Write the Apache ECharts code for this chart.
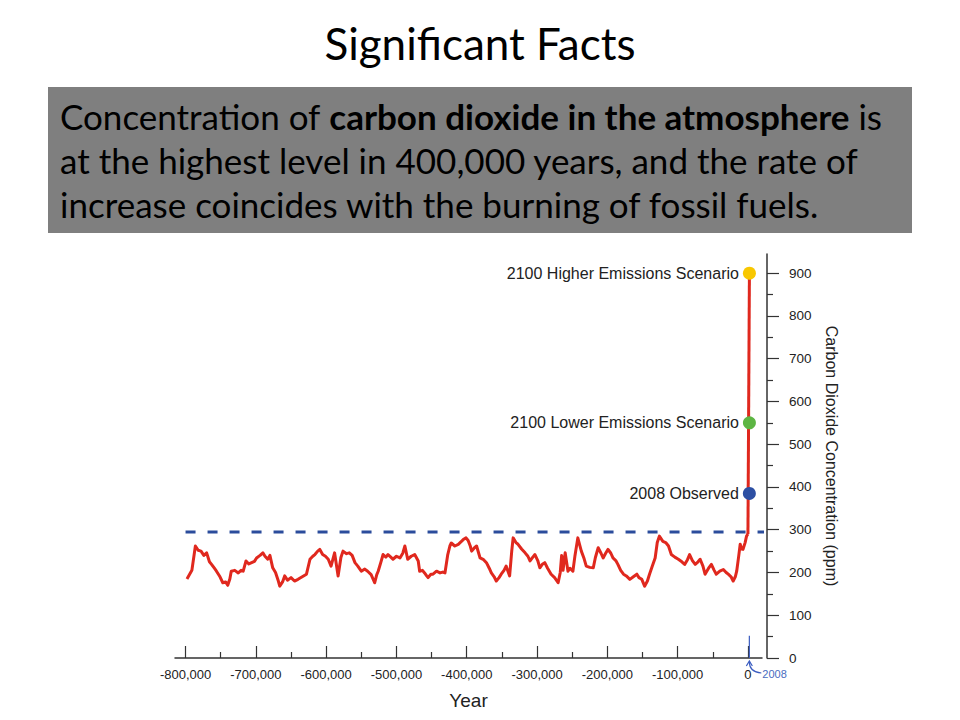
<!DOCTYPE html>
<html>
<head>
<meta charset="utf-8">
<script src="https://cdn.jsdelivr.net/npm/echarts@6/dist/echarts.min.js"></script>
<style>
html,body{margin:0;padding:0;background:#fff;}
#c{width:960px;height:720px;}
</style>
</head>
<body>
<div id="c"></div>
<script>
// ---- data (years in thousands before present, CO2 in ppm) ----
const histYearsK = [-798,-791,-786,-782,-778,-774,-770,-766,-763,-759,-756,-751,-747,-743,-740,-737,-735,-730,-725,-721,-718,-714,-710,-706,-702,-699,-694,-690,-687,-683,-680,-676,-672,-668,-666,-662,-659,-655,-650,-645,-640,-634,-628,-623,-619,-616,-612,-609,-605,-601,-597,-593,-588,-583,-579,-576,-571,-567,-563,-559,-555,-550,-545,-541,-536,-531,-528,-526,-522,-519,-515,-512,-508,-505,-500,-495,-491,-488,-484,-479,-474,-469,-467,-463,-460,-457,-455,-451,-448,-443,-438,-434,-431,-427,-424,-422,-417,-412,-408,-405,-401,-398,-395,-393,-389,-386,-383,-381,-376,-372,-368,-365,-361,-358,-354,-351,-347,-344,-339,-336,-334,-330,-327,-322,-317,-313,-310,-306,-303,-299,-296,-292,-289,-285,-280,-275,-270,-267,-265,-263,-260,-256,-253,-249,-246,-242,-239,-237,-233,-230,-225,-220,-217,-213,-209,-206,-202,-199,-195,-192,-188,-185,-181,-177,-173,-168,-163,-158,-155,-151,-147,-143,-140,-136,-132,-129,-126,-121,-117,-113,-109,-104,-99,-94,-90,-86,-83,-79,-75,-71,-68,-64,-61,-56,-52,-48,-45,-40,-35,-31,-28,-24,-21,-18,-16,-13,-11,-9,-7,-4,-2,0];
const histCO2 = [185,205,262,252,250,240,246,225,219,210,203,190,176,178,170,185,203,205,199,205,203,227,220,223,226,234,240,246,238,231,240,211,200,180,168,178,192,182,188,180,184,190,196,231,238,242,250,254,242,238,231,215,246,192,235,250,244,246,240,223,215,203,208,203,195,176,195,203,225,242,236,242,236,231,238,234,245,262,231,238,242,227,203,205,199,192,188,196,196,203,199,201,199,242,262,269,262,266,272,277,281,275,262,250,258,262,245,234,230,223,210,199,190,180,188,196,205,215,192,250,281,270,266,255,246,238,227,236,242,228,211,220,223,210,196,188,176,200,240,205,246,203,210,203,240,281,262,250,232,215,212,211,235,258,245,234,246,254,245,234,228,219,205,196,192,184,190,196,188,184,168,180,196,215,234,270,285,273,270,262,242,236,231,225,219,230,242,228,219,225,231,215,196,210,219,205,196,203,207,200,196,190,180,190,203,240,266,255,254,270,285,290];
const projYears = [0, 2100];
const projCO2 = [290, 900];
const markerYears = [2008, 2100, 2100];
const markerCO2 = [385, 550, 900];
const markerLabels = ['2008 Observed', '2100 Lower Emissions Scenario', '2100 Higher Emissions Scenario'];
const markerColors = ['#2d4fa3', '#5db543', '#f8c700'];
const maxPreIndustrial = 295;
const dashYears = [-800000, 27000];
const obsTickYears = [2008, 2008];
const obsTickCO2 = [0, 52];
const xMajorTicks = [-800000,-700000,-600000,-500000,-400000,-300000,-200000,-100000,0];
const xMinorTicks = [-750000,-650000,-550000,-450000,-350000,-250000,-150000,-50000];
const yMajorTicks = [0,100,200,300,400,500,600,700,800,900];
const yMinorTicks = [50,150,250,350,450,550,650,750,850];
const titleText = 'Significant Facts';

const histData = histYearsK.map((y, i) => [y * 1000, histCO2[i]]);
const projData = projYears.map((y, i) => [y, projCO2[i]]);
const markerData = markerYears.map((y, i) => ({
  value: [y, markerCO2[i]],
  itemStyle: { color: markerColors[i], opacity: 1 },
  label: { formatter: markerLabels[i] }
}));

const AX = '#333';
const TXT = '#222';
const FONT = '"Liberation Sans", Arial, sans-serif';
const SLIDE = 'Lato, "Open Sans", sans-serif';
const fmt = v => v === 0 ? '0' : v.toLocaleString('en-US');

const chart = echarts.init(document.getElementById('c'), null, { renderer: 'svg' });

const xBase = {
  type: 'value', min: -815000, max: 20000, position: 'bottom',
  splitLine: { show: false }
};
const yBase = {
  type: 'value', min: 0, max: 945, position: 'right', offset: 5,
  splitLine: { show: false }
};

chart.setOption({
  animation: false,
  backgroundColor: '#fff',
  grid: { left: 175, right: 198, top: 254, bottom: 62 },
  xAxis: [
    Object.assign({}, xBase, {
      name: 'Year', nameLocation: 'middle', nameGap: 33,
      nameTextStyle: { fontSize: 19, color: TXT, fontFamily: FONT },
      axisLine: { show: true, onZero: false, lineStyle: { color: AX, width: 1.5 } },
      axisTick: { show: true, inside: true, length: 12, customValues: xMajorTicks, lineStyle: { color: AX, width: 1.2 } },
      axisLabel: { show: true, customValues: xMajorTicks, formatter: fmt, fontSize: 13, color: TXT, fontFamily: FONT, margin: 10 }
    }),
    Object.assign({}, xBase, {
      axisLine: { show: false, onZero: false },
      axisTick: { show: true, inside: true, length: 6, customValues: xMinorTicks, lineStyle: { color: AX, width: 1.2 } },
      axisLabel: { show: false }
    })
  ],
  yAxis: [
    Object.assign({}, yBase, {
      name: 'Carbon Dioxide Concentration (ppm)', nameLocation: 'middle', nameGap: 56, nameRotate: -90,
      nameTextStyle: { fontSize: 16, color: TXT, fontFamily: FONT },
      axisLine: { show: true, onZero: false, lineStyle: { color: AX, width: 1.5 } },
      axisTick: { show: true, inside: false, length: 12, customValues: yMajorTicks, lineStyle: { color: AX, width: 1.2 } },
      axisLabel: { show: true, customValues: yMajorTicks, fontSize: 13.5, color: TXT, fontFamily: FONT, margin: 22 }
    }),
    Object.assign({}, yBase, {
      axisLine: { show: false, onZero: false },
      axisTick: { show: true, inside: false, length: 6, customValues: yMinorTicks, lineStyle: { color: AX, width: 1.2 } },
      axisLabel: { show: false }
    })
  ],
  series: [
    {
      type: 'line', data: dashYears.map(x => [x, maxPreIndustrial]), clip: false,
      symbol: 'none', lineStyle: { color: '#2b4c9c', width: 3, type: [10, 12] }, z: 2
    },
    {
      type: 'line', data: histData, symbol: 'none',
      lineStyle: { color: '#e0281e', width: 3, join: 'round' }, z: 3
    },
    {
      type: 'line', data: projData, symbol: 'none', clip: false,
      lineStyle: { color: '#e0281e', width: 3 }, z: 3
    },
    {
      type: 'line', data: obsTickYears.map((x, i) => [x, obsTickCO2[i]]), symbol: 'none',
      lineStyle: { color: '#3a5cc0', width: 1.2 }, z: 4
    },
    {
      type: 'scatter', data: markerData, symbolSize: 13, clip: false, z: 5,
      label: { show: true, position: 'left', distance: 4, fontSize: 16, color: TXT, fontFamily: FONT }
    }
  ]
});

const p0 = chart.convertToPixel({ xAxisIndex: 0, yAxisIndex: 0 }, [2008, 0]);
const ax = p0[0], ay = p0[1];

chart.setOption({
  graphic: [
    { type: 'text', left: 'center', top: 21, style: { text: titleText, fontSize: 44, fontFamily: SLIDE, fill: '#000' } },
    { type: 'rect', shape: { x: 48, y: 87, width: 864, height: 146 }, style: { fill: '#7f7f7f' } },
    { type: 'text', x: 60, y: 116, style: {
        text: '{n|Concentration of }{b|carbon dioxide in the atmosphere}{n| is}',
        verticalAlign: 'middle',
        rich: {
          n: { fontSize: 35, fontFamily: SLIDE, fill: '#000' },
          b: { fontSize: 35, fontFamily: SLIDE, fontWeight: 'bold', fill: '#000' }
        } } },
    { type: 'text', x: 60, y: 160, style: { text: 'at the highest level in 400,000 years, and the rate of', verticalAlign: 'middle', fontSize: 35, fontFamily: SLIDE, fill: '#000' } },
    { type: 'text', x: 60, y: 204, style: { text: 'increase coincides with the burning of fossil fuels.', verticalAlign: 'middle', fontSize: 35, fontFamily: SLIDE, fill: '#000' } },
    { type: 'bezierCurve', shape: { x1: ax, y1: ay + 4, cpx1: ax, cpy1: ay + 14, x2: ax + 12, y2: ay + 15 }, style: { stroke: '#3a5cc0', lineWidth: 1.2, fill: null } },
    { type: 'polyline', shape: { points: [[ax - 3, ay + 8], [ax, ay + 3], [ax + 3, ay + 8]] }, style: { stroke: '#3a5cc0', lineWidth: 1.2, fill: null } },
    { type: 'text', x: ax + 13, y: ay + 16, style: { text: '2008', fontSize: 11, fontFamily: FONT, fill: '#4a6cc0', verticalAlign: 'middle' } }
  ]
});
</script>
</body>
</html>
